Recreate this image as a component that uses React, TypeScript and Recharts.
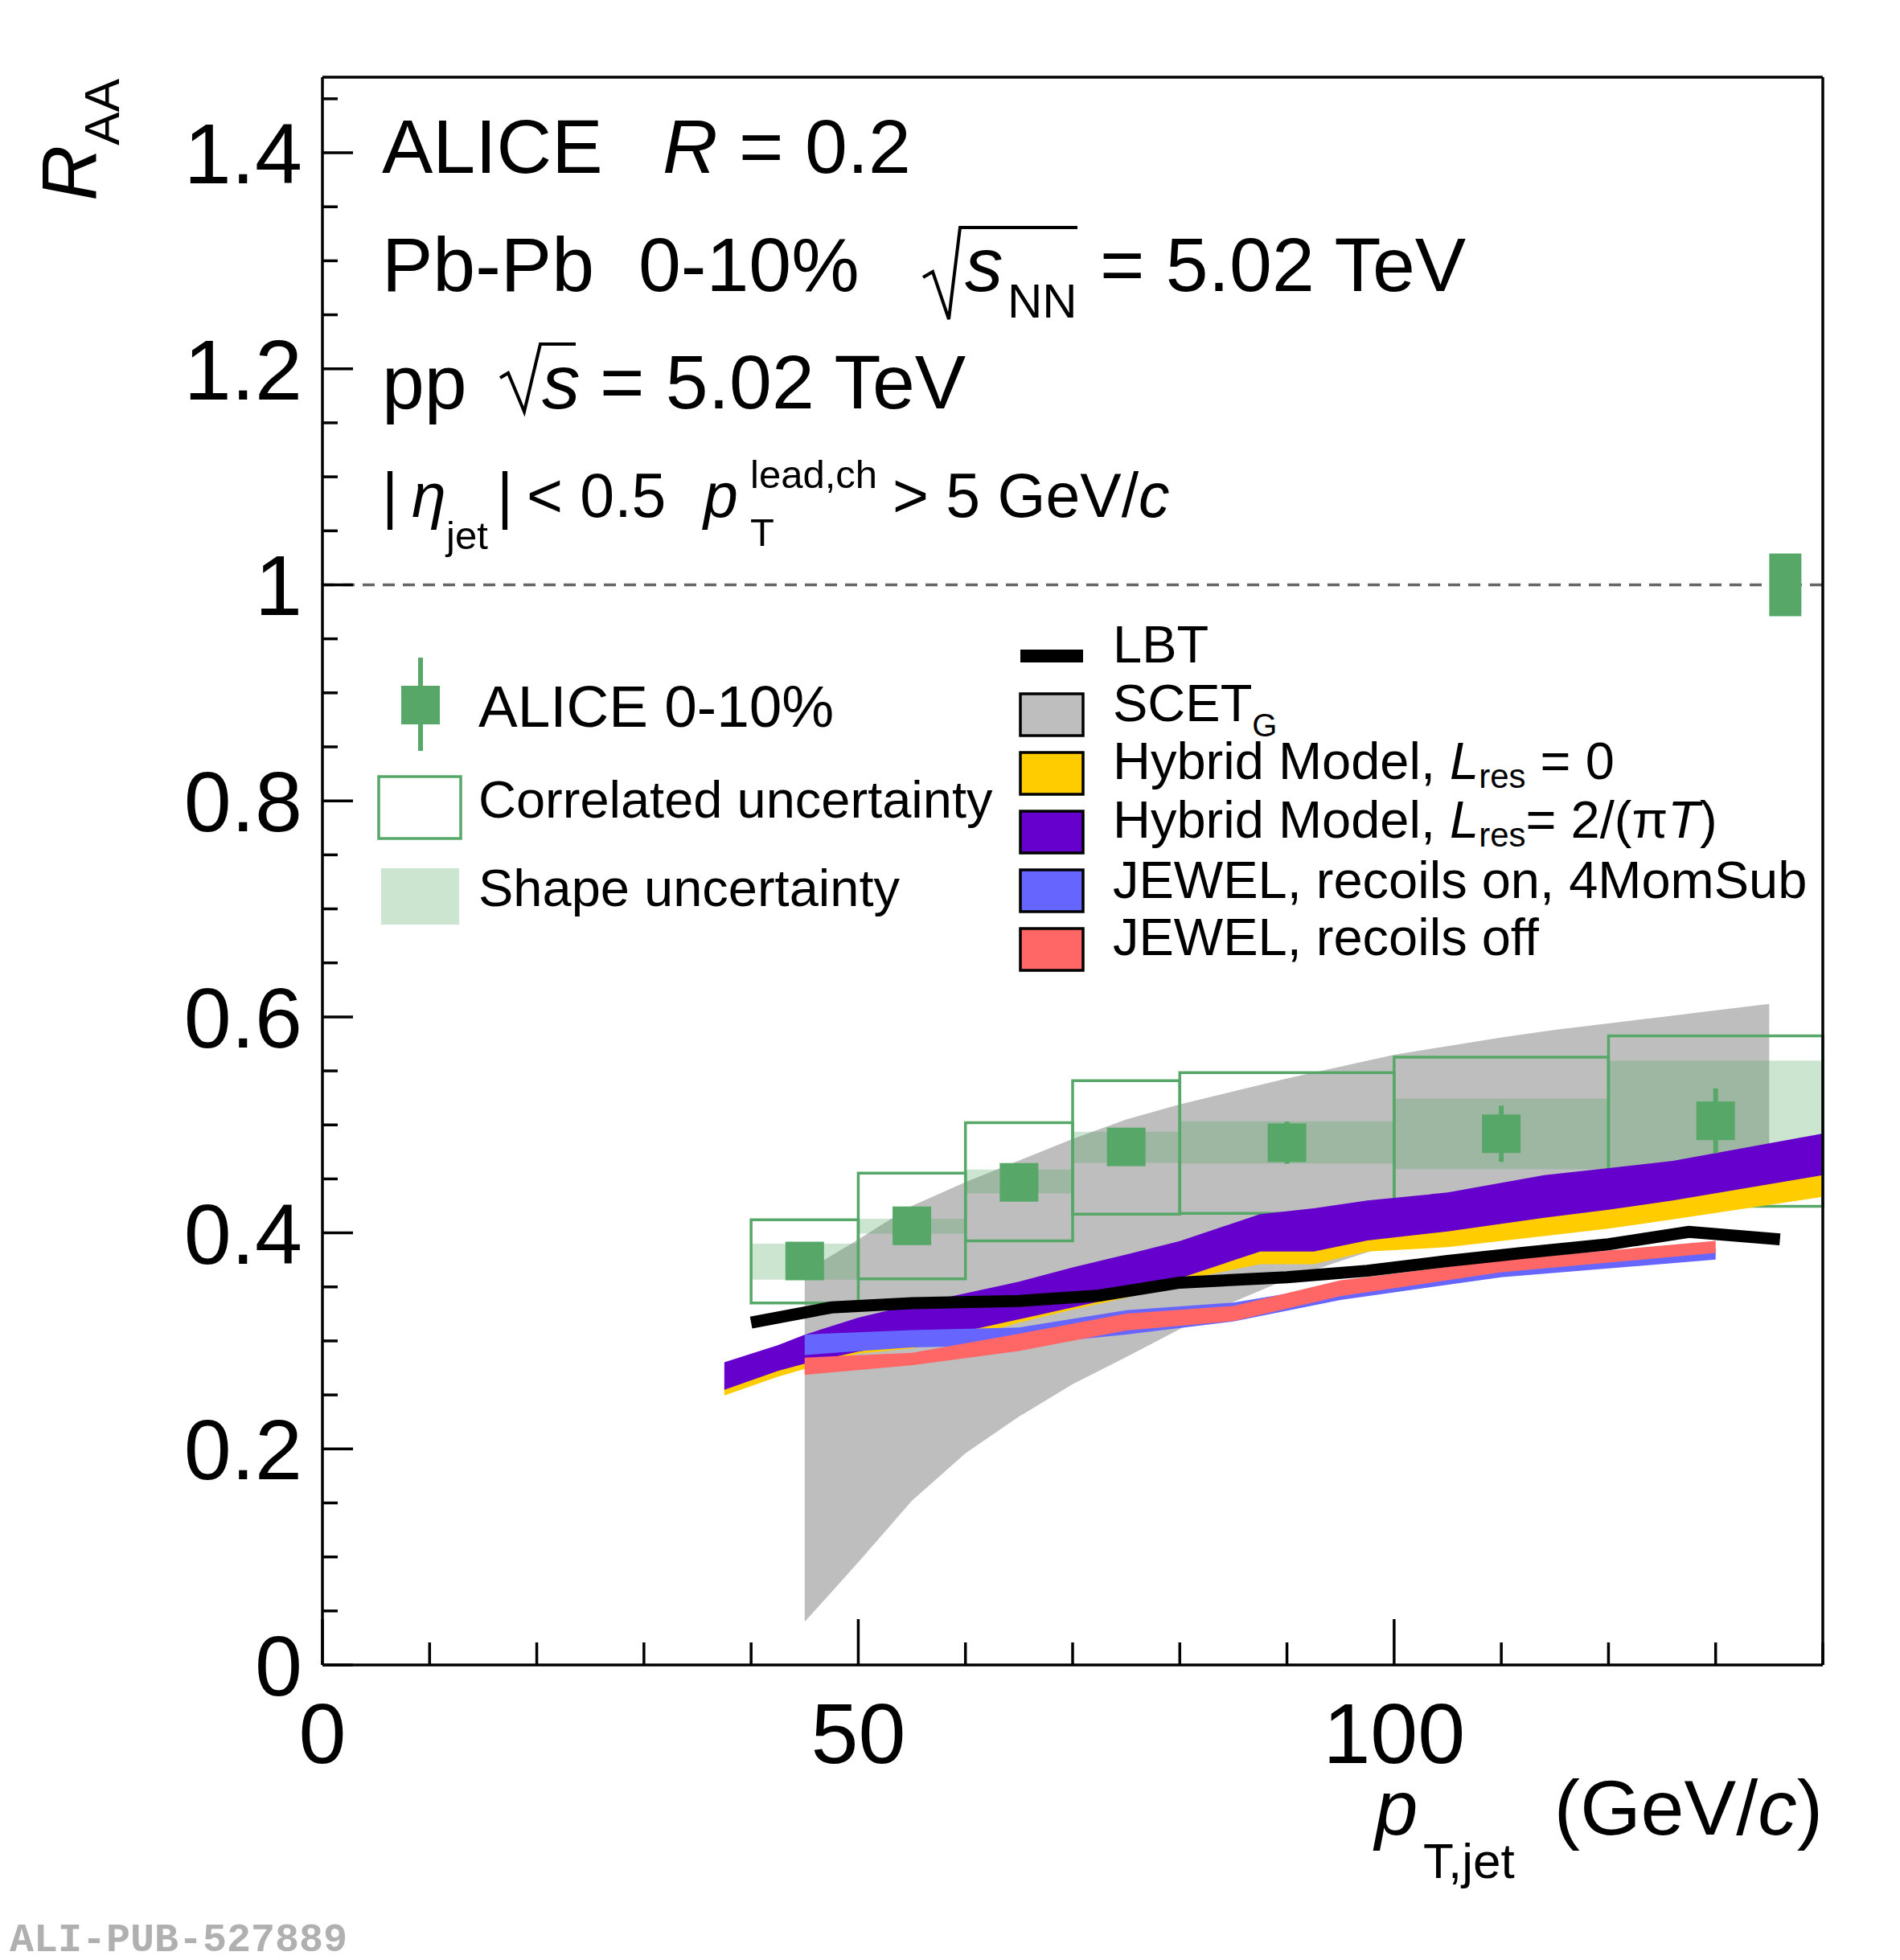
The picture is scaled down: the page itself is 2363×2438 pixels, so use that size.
import React from 'react';
import {
  ComposedChart,
  Area,
  Line,
  Scatter,
  ErrorBar,
  XAxis,
  YAxis,
  ReferenceArea,
  ReferenceLine
} from 'recharts';

const W = 2363;
const H = 2438;
const FONT = '"Liberation Sans", Arial, Helvetica, sans-serif';
const GREEN = '#57a868';
const GRAY = '#bebebe';
const YELLOW = '#ffcc00';
const PURPLE = '#6600cc';
const BLUE = '#6666ff';
const RED = '#ff6666';

// axis ticks
const xTicks = [0, 10, 20, 30, 40, 50, 60, 70, 80, 90, 100, 110, 120, 130, 140];
const xLabelTicks = [0, 50, 100];
const xLabelText = ['0', '50', '100'];
const yTicks = [
  0, 0.05, 0.1, 0.15, 0.2, 0.25, 0.3, 0.35, 0.4, 0.45, 0.5, 0.55, 0.6, 0.65, 0.7,
  0.75, 0.8, 0.85, 0.9, 0.95, 1.0, 1.05, 1.1, 1.15, 1.2, 1.25, 1.3, 1.35, 1.4, 1.45
];
const yLabelTicks = [0, 0.2, 0.4, 0.6, 0.8, 1.0, 1.2, 1.4];
const yLabelText = ['0', '0.2', '0.4', '0.6', '0.8', '1', '1.2', '1.4'];

// ALICE 0-10% data
const aliceX = [45, 55, 65, 75, 90, 110, 130];
const aliceRaa = [0.374, 0.4066, 0.4468, 0.4796, 0.4835, 0.4918, 0.5038];
const aliceStat = [0.012, 0.012, 0.013, 0.014, 0.0195, 0.026, 0.03];
const binLo = [40, 50, 60, 70, 80, 100, 120];
const binHi = [50, 60, 70, 80, 100, 120, 140];
const corrLo = [0.3351, 0.3575, 0.3926, 0.4174, 0.4182, 0.421, 0.4246];
const corrHi = [0.4122, 0.4553, 0.502, 0.541, 0.5484, 0.5627, 0.5824];
const shapeLo = [0.3567, 0.3993, 0.4366, 0.4649, 0.4643, 0.459, 0.447];
const shapeHi = [0.39, 0.413, 0.4587, 0.4936, 0.5033, 0.5243, 0.5595];
const normX = [135, 138];
const normY = [0.971, 1.029];

// SCET_G
const scetX = [45, 50, 55, 60, 65, 70, 75, 80, 85, 90, 95, 100, 105, 110, 115, 120, 125, 130, 135];
const scetLo = [0.04, 0.095, 0.152, 0.196, 0.23, 0.26, 0.285, 0.311, 0.336, 0.357, 0.374, 0.39, 0.405, 0.418, 0.43, 0.441, 0.451, 0.46, 0.468];
const scetHi = [0.364, 0.394, 0.425, 0.447, 0.467, 0.487, 0.505, 0.519, 0.531, 0.543, 0.554, 0.565, 0.573, 0.581, 0.588, 0.594, 0.6, 0.606, 0.612];

// Hybrid model, both Lres
const hybridX = [37.5, 42.5, 45, 50, 55, 60, 65, 70, 75, 80, 87.5, 92.5, 97.5, 105, 114, 120, 126, 140];
const hyb0Lo = [0.2495, 0.2668, 0.274, 0.2882, 0.293, 0.302, 0.317, 0.329, 0.34, 0.356, 0.371, 0.371, 0.3828, 0.3868, 0.397, 0.404, 0.4125, 0.4334];
const hyb0Hi = [0.2608, 0.2782, 0.285, 0.296, 0.305, 0.315, 0.326, 0.337, 0.348, 0.364, 0.3888, 0.3888, 0.399, 0.4074, 0.42, 0.4274, 0.436, 0.4594];
const hyb2Lo = [0.2548, 0.2722, 0.279, 0.29, 0.299, 0.309, 0.32, 0.331, 0.342, 0.358, 0.3828, 0.3828, 0.393, 0.4014, 0.414, 0.4214, 0.43, 0.4534];
const hyb2Hi = [0.2802, 0.296, 0.3058, 0.3215, 0.3335, 0.3441, 0.3548, 0.3681, 0.38, 0.3925, 0.4174, 0.4228, 0.43, 0.4374, 0.4534, 0.46, 0.4667, 0.492];

// JEWEL
const jewelX = [45, 55, 65, 75, 85, 95, 110, 130];
const jewelOnLo = [0.287, 0.294, 0.296, 0.306, 0.318, 0.338, 0.359, 0.3753];
const jewelOnHi = [0.306, 0.31, 0.3125, 0.3285, 0.3355, 0.352, 0.37, 0.386];
const jewelOffLo = [0.2686, 0.2775, 0.2907, 0.3096, 0.3184, 0.3415, 0.3635, 0.3815];
const jewelOffHi = [0.2846, 0.2889, 0.3067, 0.3252, 0.3323, 0.3561, 0.3748, 0.3927];

// LBT
const lbtX = [40, 47.5, 55, 65, 72.5, 80, 90, 97.5, 105, 112.5, 120, 127.5, 136];
const lbtY = [0.317, 0.331, 0.335, 0.337, 0.342, 0.354, 0.359, 0.365, 0.374, 0.382, 0.3895, 0.401, 0.394];

const band = (xs: number[], lo: number[], hi: number[]) =>
  xs.map((x, i) => ({ x, range: [lo[i], hi[i]] }));

const scetData = band(scetX, scetLo, scetHi);
const hyb0Data = band(hybridX, hyb0Lo, hyb0Hi);
const hyb2Data = band(hybridX, hyb2Lo, hyb2Hi);
const jewelOnData = band(jewelX, jewelOnLo, jewelOnHi);
const jewelOffData = band(jewelX, jewelOffLo, jewelOffHi);
const lbtData = lbtX.map((x, i) => ({ x, y: lbtY[i] }));
const aliceData = aliceX.map((x, i) => ({ x, y: aliceRaa[i], err: aliceStat[i] }));

const near = (a: number, b: number) => Math.abs(a - b) < 1e-6;

function XTick(props: any) {
  const { x, y, payload } = props;
  const idx = xLabelTicks.findIndex((t) => near(t, payload.value));
  const len = idx >= 0 ? 57 : 28;
  return (
    <g>
      <line x1={x} y1={y} x2={x} y2={y - len} stroke="#000" strokeWidth={3.5} />
      {idx >= 0 && (
        <text x={x} y={y + 122} textAnchor="middle" fontSize={106} fontFamily={FONT} fill="#000">
          {xLabelText[idx]}
        </text>
      )}
    </g>
  );
}

function YTick(props: any) {
  const { x, y, payload } = props;
  const idx = yLabelTicks.findIndex((t) => near(t, payload.value));
  const len = idx >= 0 ? 38 : 19;
  return (
    <g>
      <line x1={x} y1={y} x2={x + len} y2={y} stroke="#000" strokeWidth={3.5} />
      {idx >= 0 && (
        <text x={x - 25} y={y + 38} textAnchor="end" fontSize={106} fontFamily={FONT} fill="#000">
          {yLabelText[idx]}
        </text>
      )}
    </g>
  );
}

function AliceMarker(props: any) {
  const { cx, cy } = props;
  return <rect x={cx - 24} y={cy - 24} width={48} height={48} fill={GREEN} />;
}

function Overlay() {
  const it = { fontStyle: 'italic' as const };
  const sw = 78;
  const sx = 1269;
  return (
    <svg
      width={W}
      height={H}
      style={{ position: 'absolute', left: 0, top: 0, pointerEvents: 'none' }}
      fontFamily={FONT}
    >
      {/* header */}
      <g fontSize={95} fill="#000">
        <text x={475} y={215}>ALICE</text>
        <text x={824} y={215}>
          <tspan {...it}>R</tspan> = 0.2
        </text>
        <text x={475} y={362}>Pb-Pb</text>
        <text x={794} y={362}>0-10%</text>
        <text x={1200} y={362} {...it}>s</text>
        <text x={1253} y={395} fontSize={60}>NN</text>
        <text x={1368} y={362}>= 5.02 TeV</text>
        <text x={475} y={508}>pp</text>
        <text x={674} y={508} {...it}>s</text>
        <text x={746} y={508}>= 5.02 TeV</text>
      </g>
      <path d="M 1148 345 L 1160 338 L 1180 397 L 1194 283 L 1340 283" fill="none" stroke="#000" strokeWidth={4} />
      <path d="M 622 470 L 632 464 L 652 512 L 672 428 L 716 428" fill="none" stroke="#000" strokeWidth={4} />
      <g fontSize={77} fill="#000">
        <text x={475} y={643}>|</text>
        <text x={512} y={643} {...it}>η</text>
        <text x={555} y={683} fontSize={49}>jet</text>
        <text x={618} y={643}>|</text>
        <text x={655} y={643}>&lt; 0.5</text>
        <text x={875} y={643} {...it}>p</text>
        <text x={933} y={607} fontSize={49}>lead,ch</text>
        <text x={933} y={679} fontSize={49}>T</text>
        <text x={1110} y={643}>
          &gt; 5 GeV/<tspan {...it}>c</tspan>
        </text>
      </g>

      {/* left legend */}
      <line x1={523} y1={818} x2={523} y2={934} stroke={GREEN} strokeWidth={6} />
      <rect x={499} y={853} width={48} height={48} fill={GREEN} />
      <text x={595} y={904} fontSize={73}>ALICE 0-10%</text>
      <rect x={471} y={966} width={102} height={77} fill="#fff" stroke={GREEN} strokeWidth={3.5} />
      <text x={595} y={1017} fontSize={65}>Correlated uncertainty</text>
      <rect x={474} y={1080} width={97} height={70} fill={GREEN} fillOpacity={0.3} />
      <text x={595} y={1127} fontSize={65}>Shape uncertainty</text>

      {/* right legend */}
      <rect x={sx} y={808} width={sw} height={16} fill="#000" />
      <rect x={sx} y={863} width={sw} height={52} fill={GRAY} stroke="#000" strokeWidth={3.5} />
      <rect x={sx} y={936} width={sw} height={52} fill={YELLOW} stroke="#000" strokeWidth={3.5} />
      <rect x={sx} y={1009} width={sw} height={52} fill={PURPLE} stroke="#000" strokeWidth={3.5} />
      <rect x={sx} y={1082} width={sw} height={52} fill={BLUE} stroke="#000" strokeWidth={3.5} />
      <rect x={sx} y={1155} width={sw} height={52} fill={RED} stroke="#000" strokeWidth={3.5} />
      <g fontSize={65} fill="#000">
        <text x={1384} y={824}>LBT</text>
        <text x={1384} y={897}>
          SCET<tspan fontSize={40} dy={19}>G</tspan>
        </text>
        <text x={1384} y={969}>
          Hybrid Model, <tspan {...it}>L</tspan>
          <tspan fontSize={42} dy={11}>res</tspan>
          <tspan dy={-11}> = 0</tspan>
        </text>
        <text x={1384} y={1042}>
          Hybrid Model, <tspan {...it}>L</tspan>
          <tspan fontSize={42} dy={11}>res</tspan>
          <tspan dy={-11}>= 2/(π</tspan>
          <tspan {...it}>T</tspan>)
        </text>
        <text x={1384} y={1117}>JEWEL, recoils on, 4MomSub</text>
        <text x={1384} y={1188}>JEWEL, recoils off</text>
      </g>

      {/* axis titles */}
      <g transform="translate(120, 98) rotate(-90)">
        <text x={0} y={0} textAnchor="end" fontSize={96}>
          <tspan {...it}>R</tspan>
          <tspan fontSize={62} dy={28}>AA</tspan>
        </text>
      </g>
      <text x={1710} y={2282} fontSize={96} {...it}>p</text>
      <text x={1770} y={2336} fontSize={62}>T,jet</text>
      <text x={2267} y={2282} fontSize={97} textAnchor="end">
        (GeV/<tspan {...it}>c</tspan>)
      </text>

      <text
        x={12}
        y={2427}
        fontSize={50}
        fontWeight="bold"
        fontFamily='"Liberation Mono", "DejaVu Sans Mono", monospace'
        fill="#b0b0b0"
      >
        ALI-PUB-527889
      </text>
    </svg>
  );
}

export default function App() {
  return (
    <div style={{ position: 'absolute', left: 0, top: 0, width: W, height: H, background: '#fff' }}>
      <ComposedChart
        width={W}
        height={H}
        margin={{ top: 95, right: 95, bottom: 366, left: 400 }}
        style={{ fontFamily: FONT }}
      >
        <Area
          data={scetData}
          dataKey="range"
          type="linear"
          fill={GRAY}
          fillOpacity={1}
          stroke="none"
          dot={false}
          activeDot={false}
          isAnimationActive={false}
          zIndex={100}
        />
        {binLo.map((lo, i) => (
          <ReferenceArea
            key={`shape-${i}`}
            x1={lo}
            x2={binHi[i]}
            y1={shapeLo[i]}
            y2={shapeHi[i]}
            fill={GREEN}
            fillOpacity={0.3}
            stroke="none"
            ifOverflow="visible"
            zIndex={110}
          />
        ))}
        {binLo.map((lo, i) => (
          <ReferenceArea
            key={`corr-${i}`}
            x1={lo}
            x2={binHi[i]}
            y1={corrLo[i]}
            y2={corrHi[i]}
            fill="none"
            fillOpacity={0}
            stroke={GREEN}
            strokeWidth={3.5}
            ifOverflow="visible"
            zIndex={120}
          />
        ))}
        <ReferenceLine
          y={1}
          stroke="#666"
          strokeWidth={3.5}
          strokeDasharray="15 10"
          ifOverflow="visible"
          zIndex={130}
        />
        <ReferenceArea
          x1={normX[0]}
          x2={normX[1]}
          y1={normY[0]}
          y2={normY[1]}
          fill={GREEN}
          fillOpacity={1}
          stroke="none"
          ifOverflow="visible"
          zIndex={140}
        />
        <Area
          data={hyb0Data}
          dataKey="range"
          type="linear"
          fill={YELLOW}
          fillOpacity={1}
          stroke="none"
          dot={false}
          activeDot={false}
          isAnimationActive={false}
          zIndex={160}
        />
        <Area
          data={hyb2Data}
          dataKey="range"
          type="linear"
          fill={PURPLE}
          fillOpacity={1}
          stroke="none"
          dot={false}
          activeDot={false}
          isAnimationActive={false}
          zIndex={170}
        />
        <Area
          data={jewelOnData}
          dataKey="range"
          type="linear"
          fill={BLUE}
          fillOpacity={1}
          stroke="none"
          dot={false}
          activeDot={false}
          isAnimationActive={false}
          zIndex={180}
        />
        <Area
          data={jewelOffData}
          dataKey="range"
          type="linear"
          fill={RED}
          fillOpacity={1}
          stroke="none"
          dot={false}
          activeDot={false}
          isAnimationActive={false}
          zIndex={190}
        />
        <Line
          data={lbtData}
          dataKey="y"
          type="linear"
          stroke="#000"
          strokeWidth={15}
          strokeLinejoin="miter"
          strokeLinecap="butt"
          dot={false}
          activeDot={false}
          isAnimationActive={false}
          zIndex={200}
        />
        <Scatter
          data={aliceData}
          dataKey="y"
          fill={GREEN}
          shape={AliceMarker}
          isAnimationActive={false}
          zIndex={210}
        >
          <ErrorBar dataKey="err" direction="y" width={0} stroke={GREEN} strokeWidth={6} />
        </Scatter>

        <XAxis
          dataKey="x"
          type="number"
          domain={[0, 140]}
          ticks={xTicks}
          interval={0}
          height={1}
          tickSize={0}
          tickMargin={0}
          tickLine={false}
          tick={<XTick />}
          axisLine={{ stroke: '#000', strokeWidth: 3.5 }}
          allowDataOverflow
        />
        <XAxis
          xAxisId="top"
          orientation="top"
          type="number"
          domain={[0, 140]}
          height={1}
          tick={false}
          tickLine={false}
          axisLine={{ stroke: '#000', strokeWidth: 3.5 }}
        />
        <YAxis
          type="number"
          domain={[0, 1.47]}
          ticks={yTicks}
          interval={0}
          width={1}
          tickSize={0}
          tickMargin={0}
          tickLine={false}
          tick={<YTick />}
          axisLine={{ stroke: '#000', strokeWidth: 3.5 }}
          allowDataOverflow
        />
        <YAxis
          yAxisId="right"
          orientation="right"
          type="number"
          domain={[0, 1.47]}
          width={1}
          tick={false}
          tickLine={false}
          axisLine={{ stroke: '#000', strokeWidth: 3.5 }}
        />
      </ComposedChart>
      <Overlay />
    </div>
  );
}
